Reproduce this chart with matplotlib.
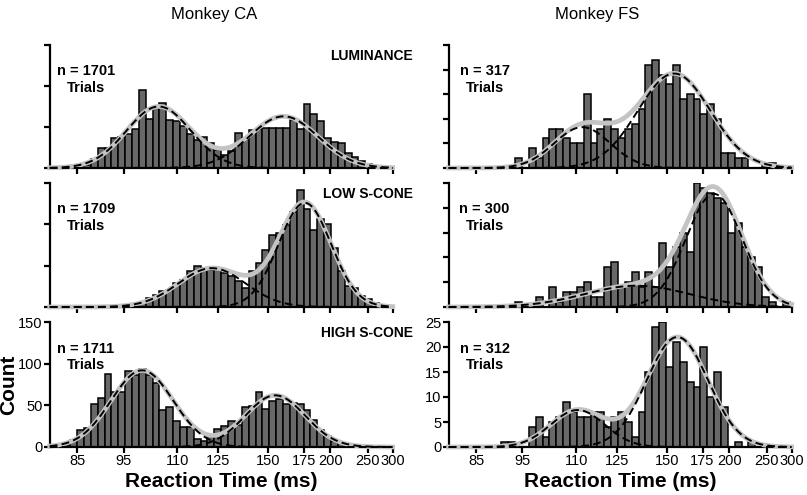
import numpy as np
import matplotlib.pyplot as plt

plt.rcParams['font.family'] = ['Liberation Sans', 'DejaVu Sans']

# x axis is reciprocal (1/RT), bins are equal width in 1/RT
rt_lo, rt_hi = 80, 300
n_bins = 50
first_edge_ms = [80.0, 79.65]   # left edge of bin 0 for each monkey
xticks = [85, 95, 110, 125, 150, 175, 200, 250, 300]

monkeys = ["Monkey CA", "Monkey FS"]
conditions = ["LUMINANCE", "LOW S-CONE", "HIGH S-CONE"]
n_trials = [[1701, 317], [1709, 300], [1711, 312]]
ymax = [150, 25]
ystep = [50, 5]

# histogram counts, bin 0 = fastest (80 ms side)
ca_lum = [0, 0, 0, 0, 1, 4, 11, 24, 24, 37, 38, 42, 47, 95, 60, 73, 79, 59, 57, 51,
          42, 34, 38, 31, 22, 16, 21, 43, 36, 46, 48, 49, 49, 49, 49, 59, 47, 78, 66, 57,
          36, 32, 30, 18, 14, 8, 5, 3, 2, 0]
ca_low = [0, 0, 0, 0, 0, 0, 0, 0, 0, 0, 1, 2, 4, 6, 11, 14, 19, 21, 29, 33,
          43, 49, 47, 45, 46, 41, 37, 31, 23, 43, 53, 69, 87, 89, 99, 115, 141, 118, 93, 107,
          101, 71, 43, 25, 23, 13, 10, 5, 2, 1]
ca_high = [0, 0, 3, 9, 20, 23, 52, 59, 88, 66, 66, 91, 87, 94, 87, 77, 44, 48, 31, 24,
           24, 10, 7, 13, 22, 25, 31, 27, 48, 49, 66, 46, 55, 58, 52, 53, 52, 44, 33, 20,
           13, 7, 5, 3, 2, 1, 0, 0, 0, 0]
fs_lum = [0, 0, 0, 0, 0, 0, 0, 0, 0, 0, 2, 0, 4, 2, 6, 8, 8, 6, 5, 5,
          15, 5, 8, 10, 8, 6, 8, 9, 12, 21, 22, 19, 17, 21, 14, 15, 14, 11, 13, 10,
          3, 3, 2, 2, 0, 0, 1, 1, 0, 0]
fs_low = [0, 0, 0, 0, 0, 0, 0, 0, 0, 0, 1, 0, 0, 2, 0, 4, 1, 3, 3, 4,
          5, 2, 2, 8, 9, 4, 5, 7, 4, 7, 4, 13, 8, 12, 15, 11, 25, 24, 23, 22,
          21, 15, 17, 12, 10, 8, 2, 1, 0, 1]
fs_high = [0, 0, 0, 0, 0, 0, 0, 0, 1, 1, 0, 0, 4, 6, 2, 5, 6, 9, 7, 6,
           6, 7, 7, 4, 6, 7, 5, 2, 7, 15, 24, 25, 16, 21, 17, 13, 12, 20, 10, 15,
           8, 0, 1, 0, 1, 0, 0, 0, 0, 0]

# two-component fits: (mean RT in ms, sd in 1/s, peak count)
ca_lum_fit = [(104.3, 0.86, 75), (160.0, 0.925, 63)]
ca_low_fit = [(122.5, 0.90, 47), (176.0, 0.70, 126)]
ca_high_fit = [(99.7, 0.83, 92), (154.5, 0.80, 62)]
fs_lum_fit = [(112.0, 0.75, 8.3), (154.5, 0.97, 19.2)]
fs_low_fit = [(134.0, 1.40, 4.3), (185.0, 0.75, 22.8)]
fs_high_fit = [(110.5, 0.72, 7.4), (156.6, 0.82, 22.0)]

counts = [[ca_lum, fs_lum], [ca_low, fs_low], [ca_high, fs_high]]
fits = [[ca_lum_fit, fs_lum_fit], [ca_low_fit, fs_low_fit], [ca_high_fit, fs_high_fit]]


def fwd(x):
    x = np.asarray(x, dtype=float)
    with np.errstate(divide='ignore', invalid='ignore'):
        return -1000.0 / x


def inv(y):
    y = np.asarray(y, dtype=float)
    with np.errstate(divide='ignore', invalid='ignore'):
        return -1000.0 / y


bin_w = (1000.0 / rt_lo - 1000.0 / rt_hi) / n_bins   # in 1/s
rt = np.linspace(rt_lo, rt_hi, 800)

W, H = 807, 495
fig = plt.figure(figsize=(W / 100, H / 100), dpi=100)
col_left = [49.7, 448.6]
col_w = 343
rows = [(45, 168), (183, 307), (322, 447)]

for r, (top, bot) in enumerate(rows):
    for c in range(2):
        ax = fig.add_axes([col_left[c] / W, 1 - bot / H, col_w / W, (bot - top) / H])
        ax.set_xscale('function', functions=(fwd, inv))
        edges = 1000.0 / (1000.0 / first_edge_ms[c] - bin_w * np.arange(n_bins + 1))
        ax.bar(edges[:-1], counts[r][c], width=np.diff(edges), align='edge',
               color='#686868', edgecolor='black', linewidth=1.1, zorder=2)

        comps = [A * np.exp(-0.5 * ((1000.0 / rt - 1000.0 / m) / s) ** 2) for m, s, A in fits[r][c]]
        ax.plot(rt, comps[0] + comps[1], color='#c4c4c4', lw=3.4, zorder=3, clip_on=False)
        for comp in comps:
            ax.plot(rt, comp, color='black', lw=1.4, dashes=(4, 2.2), zorder=4, clip_on=False)

        ax.set_xlim(rt_lo, rt_hi)
        ax.set_ylim(0, ymax[c])
        ax.set_xticks(xticks)
        ax.set_yticks(np.arange(0, ymax[c] + 1, ystep[c]))
        ax.xaxis.set_minor_locator(plt.NullLocator())
        for side in ['top', 'right']:
            ax.spines[side].set_visible(False)
        for side in ['left', 'bottom']:
            ax.spines[side].set_linewidth(1.6)
        ax.tick_params(direction='out', length=4, width=1.6, labelsize=10.5, pad=1.2)
        if r < 2:
            ax.set_xticklabels([])
            ax.set_yticklabels([])
        else:
            ax.set_xticklabels([str(t) for t in xticks])
            ax.set_xlabel("Reaction Time (ms)", fontsize=15, fontweight='bold', labelpad=3)

        ax.text(0.105, 0.72, f"n = {n_trials[r][c]}\nTrials", transform=ax.transAxes,
                ha='center', va='center', fontsize=10.5, fontweight='bold', linespacing=1.25)

    fig.text(413 / W, 1 - (top + 11) / H, conditions[r], ha='right', va='center',
             fontsize=10, fontweight='bold')

fig.text(214 / W, 1 - 15 / H, monkeys[0], ha='center', va='center', fontsize=12)
fig.text(597 / W, 1 - 15 / H, monkeys[1], ha='center', va='center', fontsize=12)
fig.text(9 / W, 1 - 385 / H, "Count", rotation=90, ha='center', va='center',
         fontsize=15, fontweight='bold')

fig.savefig("out.png", dpi=100)
